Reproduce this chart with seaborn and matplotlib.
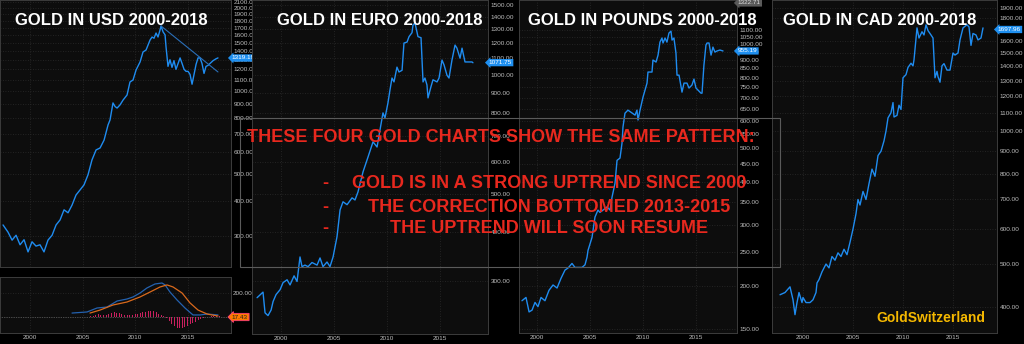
import numpy as np
import pandas as pd
import matplotlib
matplotlib.use("Agg")
import matplotlib.pyplot as plt
import seaborn as sns
from matplotlib.patches import Rectangle
from matplotlib.ticker import FixedLocator, FuncFormatter, NullLocator

# ---------------- DATA ----------------
year_ticks = [2000, 2005, 2010, 2015]

usd_years = [1997.43, 1997.90, 1998.29, 1998.67, 1999.05, 1999.43, 1999.81, 2000.19, 2000.57, 2000.95,
             2001.33, 2001.71, 2002.10, 2002.48, 2002.86, 2003.24, 2003.62, 2004.00, 2004.38, 2004.76,
             2005.14, 2005.52, 2005.90, 2006.29, 2006.67, 2007.05, 2007.43, 2007.62, 2007.90, 2008.10,
             2008.29, 2008.57, 2008.86, 2009.24, 2009.52, 2009.81, 2010.10, 2010.48, 2010.76, 2011.05,
             2011.24, 2011.43, 2011.62, 2011.81, 2012.00, 2012.19, 2012.38, 2012.48, 2012.67, 2012.86,
             2012.95, 2013.14, 2013.33, 2013.52, 2013.71, 2013.90, 2014.10, 2014.29, 2014.48, 2014.67,
             2014.86, 2015.05, 2015.24, 2015.43, 2015.62, 2015.81, 2016.00, 2016.19, 2016.38, 2016.57,
             2016.76, 2016.95, 2017.14, 2017.43, 2017.71, 2017.90]
usd_vals = [328, 309, 289, 301, 278, 290, 262, 285, 275, 278,
            262, 289, 301, 328, 342, 372, 363, 387, 421, 439,
            458, 498, 564, 613, 623, 665, 755, 787, 907, 880,
            869, 892, 929, 969, 1080, 1098, 1194, 1276, 1387, 1410,
            1470, 1532, 1571, 1555, 1624, 1571, 1665, 1722, 1640, 1600,
            1450, 1230, 1300, 1220, 1290, 1200, 1260, 1320, 1260, 1200,
            1180, 1180, 1150, 1060, 1150, 1250, 1320, 1320, 1260, 1160,
            1230, 1240, 1260, 1290, 1310, 1320]
usd_trend_years = [2012.48, 2017.90]
usd_trend_vals = [1722, 1174]

macd_years = [2004.0, 2005.43, 2006.38, 2007.33, 2008.29, 2009.24, 2009.81, 2010.48, 2011.14, 2011.90,
              2012.57, 2012.86, 2013.33, 2014.0, 2014.76, 2015.52, 2016.19, 2016.86, 2017.9]
macd_vals = [33, 42, 75, 83, 133, 150, 167, 200, 242, 275, 283, 267, 208, 142, 75, 17, 17, 25, 17]
signal_years = [2005.71, 2006.67, 2007.90, 2009.24, 2010.48, 2011.43, 2012.38, 2013.05, 2013.62, 2014.48,
                2015.24, 2016.00, 2016.86, 2017.9]
signal_vals = [33, 58, 100, 125, 167, 208, 250, 267, 250, 200, 117, 58, 25, 8]
hist_years = [2005.75, 2006.0, 2006.25, 2006.5, 2006.75, 2007.0, 2007.25, 2007.5, 2007.75, 2008.0,
              2008.25, 2008.5, 2008.75, 2009.0, 2009.25, 2009.5, 2009.75, 2010.0, 2010.25, 2010.5,
              2010.75, 2011.0, 2011.25, 2011.5, 2011.75, 2012.0, 2012.25, 2012.5, 2012.75, 2013.0,
              2013.25, 2013.5, 2013.75, 2014.0, 2014.25, 2014.5, 2014.75, 2015.0, 2015.25, 2015.5,
              2015.75, 2016.0, 2016.25, 2016.5, 2016.75, 2017.0, 2017.25, 2017.5, 2017.75, 2018.0]
hist_vals = [6, 12, 20, 24, 20, 16, 20, 26, 34, 40,
             36, 30, 24, 20, 18, 16, 20, 24, 28, 34,
             40, 44, 48, 50, 46, 38, 28, 18, 8, -8,
             -30, -55, -75, -88, -92, -90, -82, -72, -60, -48,
             -38, -26, -15, -8, -4, 4, 6, 5, 7, 8]

eur_years = [1997.74, 1998.30, 1998.49, 1998.77, 1999.06, 1999.25, 1999.53, 1999.91, 2000.19, 2000.57,
             2000.85, 2001.23, 2001.51, 2001.79, 2001.98, 2002.26, 2002.55, 2002.92, 2003.40, 2003.68,
             2003.96, 2004.34, 2004.62, 2004.91, 2005.28, 2005.57, 2005.85, 2006.23, 2006.70, 2006.98,
             2007.26, 2007.74, 2008.21, 2008.68, 2009.06, 2009.34, 2009.62, 2009.81, 2010.09, 2010.28,
             2010.47, 2010.66, 2010.94, 2011.13, 2011.42, 2011.60, 2011.89, 2012.08, 2012.36, 2012.45,
             2012.64, 2012.83, 2012.92, 2013.21, 2013.40, 2013.58, 2013.77, 2013.87, 2014.15, 2014.34,
             2014.72, 2014.91, 2015.19, 2015.38, 2015.66, 2015.85, 2016.13, 2016.42, 2016.60, 2016.89,
             2017.08, 2017.36, 2017.64, 2018.02, 2018.11]
eur_vals = [273, 282, 250, 246, 254, 267, 278, 286, 298, 303,
            294, 310, 300, 346, 327, 330, 327, 335, 330, 344,
            327, 336, 327, 346, 389, 455, 477, 469, 488, 482,
            505, 568, 619, 676, 656, 725, 800, 777, 848, 914,
            980, 958, 1044, 1015, 1025, 1201, 1208, 1247, 1276, 1333,
            1350, 1280, 1247, 1239, 958, 980, 941, 873, 932, 970,
            958, 980, 1088, 1058, 996, 980, 1088, 1187, 1166, 1100,
            1166, 1076, 1076, 1076, 1071]

gbp_years = [1998.58, 1998.96, 1999.25, 1999.53, 1999.81, 2000.09, 2000.38, 2000.75, 2001.13, 2001.51,
             2001.89, 2002.26, 2002.64, 2002.92, 2003.30, 2003.58, 2003.87, 2004.25, 2004.53, 2004.72,
             2004.81, 2005.19, 2005.47, 2005.75, 2005.94, 2006.23, 2006.60, 2006.89, 2007.08, 2007.36,
             2007.55, 2007.83, 2008.02, 2008.11, 2008.30, 2008.58, 2009.25, 2009.43, 2009.53, 2009.72,
             2010.00, 2010.38, 2010.47, 2010.85, 2010.94, 2011.23, 2011.42, 2011.60, 2011.79, 2011.89,
             2012.08, 2012.26, 2012.45, 2012.64, 2012.74, 2012.92, 2013.11, 2013.21, 2013.40, 2013.68,
             2013.87, 2014.15, 2014.34, 2014.62, 2014.81, 2015.00, 2015.19, 2015.47, 2015.57, 2015.75,
             2015.94, 2016.04, 2016.23, 2016.42, 2016.60, 2016.79, 2016.98, 2017.26, 2017.55]
gbp_vals = [181, 185, 168, 170, 179, 174, 185, 181, 194, 201,
            197, 210, 222, 225, 232, 226, 226, 226, 230, 242,
            253, 276, 316, 331, 326, 331, 338, 331, 361, 396,
            461, 468, 517, 575, 631, 644, 623, 644, 603, 644,
            702, 771, 830, 830, 899, 887, 929, 1013, 1041, 1007,
            1041, 1013, 1076, 1090, 1027, 1041, 942, 813, 813, 726,
            771, 771, 746, 761, 792, 746, 736, 721, 721, 869,
            993, 1007, 1007, 929, 980, 948, 955, 961, 955]

cad_years = [1997.7, 1998.2, 1998.7, 1999.0, 1999.2, 1999.4, 1999.6, 1999.9, 2000.0, 2000.3,
             2000.7, 2001.0, 2001.3, 2001.4, 2001.6, 2001.9, 2002.3, 2002.6, 2002.9, 2003.2,
             2003.5, 2003.8, 2004.1, 2004.4, 2004.7, 2005.0, 2005.3, 2005.5, 2005.7, 2006.0,
             2006.3, 2006.6, 2006.9, 2007.2, 2007.5, 2007.8, 2008.1, 2008.3, 2008.5, 2008.8,
             2009.0, 2009.1, 2009.4, 2009.6, 2009.8, 2010.0, 2010.3, 2010.5, 2010.8, 2011.0,
             2011.1, 2011.4, 2011.6, 2011.9, 2012.1, 2012.3, 2012.5, 2012.8, 2013.0, 2013.2,
             2013.4, 2013.5, 2013.7, 2013.9, 2014.1, 2014.4, 2014.7, 2015.0, 2015.2, 2015.5,
             2015.7, 2016.0, 2016.4, 2016.6, 2016.8, 2017.0, 2017.3, 2017.5, 2017.8, 2018.0]
cad_vals = [426, 431, 444, 415, 384, 409, 431, 409, 420, 409,
            409, 415, 431, 453, 461, 480, 500, 490, 520, 510,
            530, 520, 540, 525, 560, 600, 650, 700, 680, 730,
            700, 760, 820, 790, 880, 900, 950, 1000, 1071, 1100,
            1160, 1076, 1085, 1144, 1119, 1320, 1342, 1393, 1424, 1405,
            1449, 1712, 1624, 1678, 1650, 1740, 1688, 1650, 1624, 1320,
            1365, 1327, 1290, 1405, 1421, 1374, 1374, 1502, 1486, 1502,
            1608, 1712, 1740, 1721, 1563, 1663, 1650, 1608, 1624, 1712]

usd_ticks = [300, 400, 500, 600, 700, 800, 900, 1000, 1100, 1200, 1300, 1400, 1500, 1600, 1700, 1800, 1900, 2000, 2100]
eur_ticks = [300, 400, 500, 600, 700, 800, 900, 1000, 1100, 1200, 1300, 1400, 1500]
gbp_ticks = [150, 200, 250, 300, 350, 400, 450, 500, 550, 600, 650, 700, 750, 800, 850, 900, 950, 1000, 1050, 1100]
cad_ticks = [400, 500, 600, 700, 800, 900, 1000, 1100, 1200, 1300, 1400, 1500, 1600, 1800, 1900]

titles = ["GOLD IN USD 2000-2018", "GOLD IN EURO 2000-2018", "GOLD IN POUNDS 2000-2018", "GOLD IN CAD 2000-2018"]
last_prices = ["1319.19", "1071.75", "955.19", "1697.96"]
last_values = [1319.19, 1071.75, 955.19, 1697.96]
macd_last = "17.43"
headline = "THESE FOUR GOLD CHARTS SHOW THE SAME PATTERN:"
bullets = ["GOLD IS IN A STRONG UPTREND SINCE 2000",
           "THE CORRECTION BOTTOMED 2013-2015",
           "THE UPTREND WILL SOON RESUME"]
brand = "GoldSwitzerland"

# ---------------- STYLE / LAYOUT ----------------
W, H = 1024, 344
sns.set_theme(style="dark")
plt.rcParams['font.family'] = ['Liberation Sans', 'DejaVu Sans']
TICKFONT = ['Liberation Sans Narrow', 'Liberation Sans', 'DejaVu Sans']
LINE = '#1f8cf0'
GRID = '#2c2c2c'
TXT = '#bdbdbd'

fig = plt.figure(figsize=(W / 100, H / 100), dpi=100, facecolor='black')


def px_axes(x0, y0, x1, y1):
    ax = fig.add_axes([x0 / W, 1 - y1 / H, (x1 - x0) / W, (y1 - y0) / H])
    ax.set_facecolor('#0d0d0d')
    for s in ax.spines.values():
        s.set_color('#3c3c3c')
        s.set_linewidth(0.7)
    return ax


def style_price(ax, xlim, ylim, yticks, show_x=True):
    ax.set_yscale('log')
    ax.set_xlim(xlim)
    ax.set_ylim(ylim)
    ax.yaxis.set_major_locator(FixedLocator(yticks))
    ax.yaxis.set_minor_locator(NullLocator())
    ax.yaxis.set_major_formatter(FuncFormatter(lambda v, p: f"{v:.2f}"))
    ax.yaxis.tick_right()
    ax.xaxis.set_major_locator(FixedLocator(year_ticks))
    ax.xaxis.set_minor_locator(NullLocator())
    ax.xaxis.set_major_formatter(FuncFormatter(lambda v, p: f"{int(round(v))}"))
    ax.tick_params(axis='y', length=0, pad=2, labelsize=4.6, labelcolor=TXT)
    ax.tick_params(axis='x', length=0, pad=1.5, labelsize=4.6, labelcolor=TXT, labelbottom=show_x)
    for lab in ax.get_yticklabels() + ax.get_xticklabels():
        lab.set_family(TICKFONT)
    ax.grid(True, which='major', color=GRID, linestyle=(0, (1, 2)), linewidth=0.6)
    ax.set_xlabel('')
    ax.set_ylabel('')


def price_tag(ax, val, text, fc, tc='white', ec='none'):
    ax.text(1.004, val, text, transform=ax.get_yaxis_transform(), ha='left', va='center',
            fontsize=4.6, color=tc, family=TICKFONT, clip_on=False, zorder=20,
            bbox=dict(boxstyle='larrow,pad=0.18', fc=fc, ec=ec, lw=0.6))


# USD main panel
ax_usd = px_axes(0, 0, 231, 267)
sns.lineplot(x=usd_years, y=usd_vals, ax=ax_usd, color=LINE, linewidth=1.0)
sns.lineplot(x=usd_trend_years, y=usd_trend_vals, ax=ax_usd, color='#2a6fb8', linewidth=0.8)
style_price(ax_usd, (1997.14, 2019.14), (231, 2139), usd_ticks, show_x=False)
price_tag(ax_usd, last_values[0], last_prices[0], '#1e8ff0')

# USD MACD panel
ax_m = px_axes(0, 277, 231, 333)
sns.barplot(x=hist_years, y=hist_vals, ax=ax_m, native_scale=True, color='#c8205e',
            width=0.4, errorbar=None, saturation=1, edgecolor='none', linewidth=0)
sns.lineplot(x=macd_years, y=macd_vals, ax=ax_m, color='#2462b0', linewidth=0.9)
sns.lineplot(x=signal_years, y=signal_vals, ax=ax_m, color='#d9691c', linewidth=0.9)
ax_m.axhline(0, color='#8a8a8a', linestyle=(0, (1, 1.5)), linewidth=0.5, zorder=0.5)
ax_m.set_xlim(1997.14, 2019.14)
ax_m.set_ylim(-133, 333)
ax_m.yaxis.tick_right()
ax_m.yaxis.set_major_locator(FixedLocator([200]))
ax_m.yaxis.set_major_formatter(FuncFormatter(lambda v, p: f"{v:.2f}"))
ax_m.xaxis.set_major_locator(FixedLocator(year_ticks))
ax_m.xaxis.set_major_formatter(FuncFormatter(lambda v, p: f"{int(round(v))}"))
ax_m.tick_params(axis='both', length=0, pad=1.5, labelsize=4.6, labelcolor=TXT)
for lab in ax_m.get_yticklabels() + ax_m.get_xticklabels():
    lab.set_family(TICKFONT)
ax_m.grid(True, color=GRID, linestyle=(0, (1, 2)), linewidth=0.6)
ax_m.set_xlabel('')
ax_m.set_ylabel('')
price_tag(ax_m, 0, macd_last, '#ff7a00', tc='#202020', ec='#ff3c7a')

# EURO panel
ax_eur = px_axes(252, 0, 488, 334)
sns.lineplot(x=eur_years, y=eur_vals, ax=ax_eur, color=LINE, linewidth=1.0)
style_price(ax_eur, (1997.26, 2019.53), (221, 1543), eur_ticks)
price_tag(ax_eur, last_values[1], last_prices[1], '#1e8ff0')

# POUNDS panel
ax_gbp = px_axes(519, 0, 737, 333)
sns.lineplot(x=gbp_years, y=gbp_vals, ax=ax_gbp, color=LINE, linewidth=1.0)
style_price(ax_gbp, (1998.30, 2018.87), (146, 1341), gbp_ticks)
price_tag(ax_gbp, last_values[2], last_prices[2], '#1e8ff0')
price_tag(ax_gbp, 1315, "1322.71", '#5a5a5a', tc='#dddddd')

# CAD panel
ax_cad = px_axes(772, 0, 997, 333)
sns.lineplot(x=cad_years, y=cad_vals, ax=ax_cad, color=LINE, linewidth=1.0)
style_price(ax_cad, (1996.9, 2019.4), (349, 1980), cad_ticks)
price_tag(ax_cad, last_values[3], last_prices[3], '#1e8ff0')

for ax in (ax_usd, ax_m, ax_eur, ax_gbp, ax_cad):
    leg = ax.get_legend()
    if leg is not None:
        leg.remove()

# Titles
title_x = [111, 380, 642, 880]
for t, cx in zip(titles, title_x):
    fig.text(cx / W, 1 - 25 / H, t, ha='center', va='baseline', color='white',
             fontsize=12, fontweight='bold', zorder=30)

# Grey frame behind overlay text
fig.add_artist(Rectangle((240 / W, 1 - 267 / H), 540 / W, 149 / H, transform=fig.transFigure,
                         fill=False, edgecolor='#5a5a5a', linewidth=0.8, zorder=25))

RED = '#e8281e'
fig.text(501 / W, 1 - 142 / H, headline, ha='center', va='baseline', color=RED,
         fontsize=13, fontweight='bold', zorder=40)
for txt, yb in zip(bullets, [188, 212, 233]):
    fig.text(325 / W, 1 - yb / H, "-", ha='center', va='baseline', color=RED,
             fontsize=13, fontweight='bold', zorder=40)
    fig.text(549 / W, 1 - yb / H, txt, ha='center', va='baseline', color=RED,
             fontsize=13, fontweight='bold', zorder=40)

fig.text(931 / W, 1 - 322 / H, brand, ha='center', va='baseline', color='#f5b800',
         fontsize=10, fontweight='bold', zorder=40)

fig.savefig('out.png', dpi=100, facecolor='black')
